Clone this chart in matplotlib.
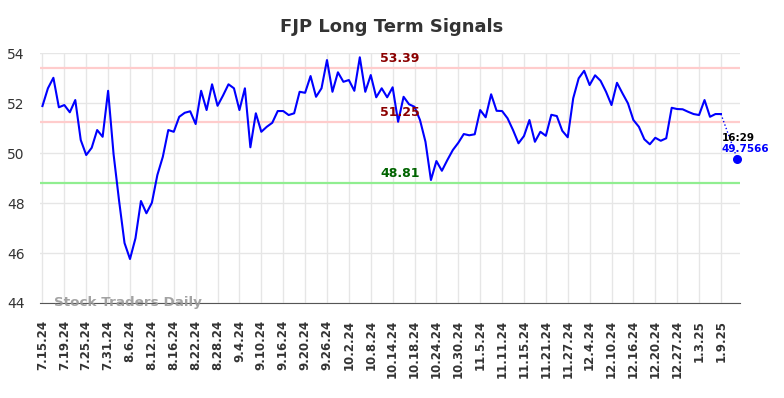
import numpy as np
import matplotlib
matplotlib.use('Agg')
import matplotlib.pyplot as plt

# Closing prices, one per trading day starting 7.15.24
prices = [
    51.88, 52.59, 53.01, 51.83, 51.92, 51.63, 52.12, 50.52, 49.92, 50.21,
    50.92, 50.65, 52.49, 49.95, 48.10, 46.40, 45.76, 46.59, 48.08, 47.59,
    48.01, 49.12, 49.85, 50.92, 50.85, 51.45, 51.61, 51.67, 51.16, 52.49,
    51.72, 52.75, 51.89, 52.30, 52.75, 52.59, 51.72, 52.59, 50.23, 51.59,
    50.85, 51.05, 51.21, 51.68, 51.68, 51.52, 51.59, 52.45, 52.41, 53.08,
    52.25, 52.59, 53.72, 52.45, 53.23, 52.85, 52.92, 52.49, 53.83, 52.45,
    53.12, 52.23, 52.59, 52.23, 52.63, 51.25, 52.25, 51.95, 51.85, 51.32,
    50.45, 48.92, 49.68, 49.29, 49.72, 50.12, 50.41, 50.76, 50.71, 50.75,
    51.72, 51.43, 52.35, 51.69, 51.68, 51.39, 50.92, 50.39, 50.68, 51.32,
    50.45, 50.85, 50.69, 51.53, 51.48, 50.89, 50.63, 52.19, 52.99, 53.29,
    52.72, 53.11, 52.89, 52.45, 51.92, 52.81, 52.39, 51.99, 51.32, 51.05,
    50.55, 50.35, 50.61, 50.49, 50.59, 51.81, 51.76, 51.75, 51.65, 51.56,
    51.52, 52.12, 51.45, 51.56, 51.56,
]
tick_labels = [
    '7.15.24', '7.19.24', '7.25.24', '7.31.24', '8.6.24', '8.12.24', '8.16.24',
    '8.22.24', '8.28.24', '9.4.24', '9.10.24', '9.16.24', '9.20.24', '9.26.24',
    '10.2.24', '10.8.24', '10.14.24', '10.18.24', '10.24.24', '10.30.24',
    '11.5.24', '11.11.24', '11.15.24', '11.21.24', '11.27.24', '12.4.24',
    '12.10.24', '12.16.24', '12.20.24', '12.27.24', '1.3.25', '1.9.25',
]
tick_step = 4
resistance = 53.39
middle = 51.25
support = 48.81
last_price = 49.7566
last_time = '16:29'
last_offset = 3  # trading days after final close

x = np.arange(len(prices))
last_x = x[-1] + last_offset

fig = plt.figure(figsize=(7.84, 3.98), dpi=100)
ax = fig.add_axes([0.051, 0.2387, 0.893, 0.628])

ax.axhline(resistance, color='#ffcccc', linewidth=1.6, zorder=1)
ax.axhline(middle, color='#ffcccc', linewidth=1.6, zorder=1)
ax.axhline(support, color='#90ee90', linewidth=1.6, zorder=1)

ax.plot(x, prices, color='blue', linewidth=1.5, zorder=3)
ax.plot([x[-1], last_x], [prices[-1], last_price], color='blue',
        linewidth=1.0, linestyle=':', zorder=3)
ax.scatter([last_x], [last_price], color='blue', s=30, zorder=4, clip_on=False)

# signal level labels
lx = 65.3
ax.text(lx, resistance + 0.12, f'{resistance:.2f}', color='#8b0000',
        fontsize=9, fontweight='bold', ha='center', va='bottom')
ax.text(lx, middle + 0.12, f'{middle:.2f}', color='#8b0000',
        fontsize=9, fontweight='bold', ha='center', va='bottom')
ax.text(lx, support + 0.12, f'{support:.2f}', color='#006400',
        fontsize=9, fontweight='bold', ha='center', va='bottom')

ax.text(x[-1] + 0.1, last_price + 0.65, last_time, color='black',
        fontsize=7.5, fontweight='bold', ha='left', va='bottom')
ax.text(x[-1] + 0.1, last_price + 0.6, f'{last_price:.4f}', color='blue',
        fontsize=7.5, fontweight='bold', ha='left', va='top')

ax.text(2.2, 44.0, 'Stock Traders Daily', color='#999999', alpha=0.9,
        fontsize=9.7, fontweight='bold', ha='left', va='center')

ax.set_xlim(-0.45, 127.5)
ax.set_ylim(44, 54)
ax.set_yticks(np.arange(44, 55, 2))
ax.set_xticks(np.arange(len(tick_labels)) * tick_step)
ax.set_xticklabels(tick_labels, rotation=90, fontsize=8.5, fontweight='bold',
                   color='#333333')
ax.tick_params(axis='y', length=0, pad=11, labelsize=10, labelcolor='#333333')
ax.tick_params(axis='x', length=0, pad=12)
ax.grid(True, color='#e6e6e6', linewidth=1.0)
ax.set_axisbelow(True)
for side in ['left', 'right', 'top']:
    ax.spines[side].set_visible(False)
ax.spines['bottom'].set_color('#555555')

fig.suptitle('FJP Long Term Signals', x=0.5, y=0.955, fontsize=13,
             fontweight='bold', color='#333333')

fig.savefig('out.png', dpi=100)
